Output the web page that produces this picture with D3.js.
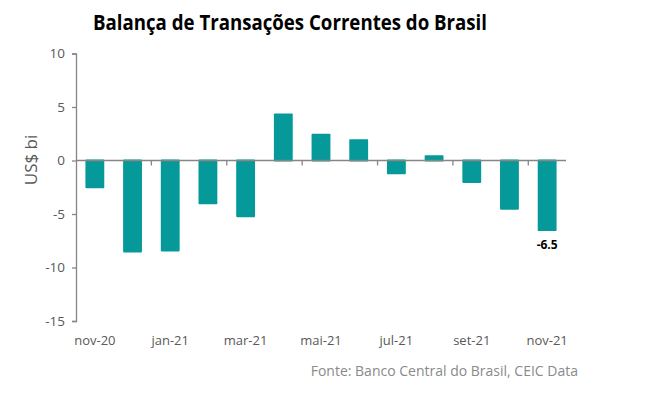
<!DOCTYPE html>
<html><head><meta charset="utf-8">
<script src="https://cdn.jsdelivr.net/npm/d3@7"></script>
<style>body{margin:0;background:#fff}svg{display:block}</style>
</head><body><svg id="c" width="654" height="397"></svg>
<script>
const categories = ["nov-20","dez-20","jan-21","fev-21","mar-21","abr-21","mai-21","jun-21","jul-21","ago-21","set-21","out-21","nov-21"];
const values = [-2.5,-8.5,-8.4,-4.0,-5.2,4.3,2.4,1.9,-1.2,0.4,-2.0,-4.5,-6.5];
const yTicks = [10,5,0,-5,-10,-15];
const xLabels = ["nov-20","jan-21","mar-21","mai-21","jul-21","set-21","nov-21"];
const title = "Balança de Transações Correntes do Brasil";
const yTitle = "US$ bi";
const source = "Fonte: Banco Central do Brasil, CEIC Data";
const labeled = {"nov-21": "-6.5"};

const svg = d3.select("#c");
const axisColor = "#868686", textColor = "#595959", barColor = "#06999a";
const x = d3.scaleBand().domain(categories).range([76, 566]).paddingInner(0.5).paddingOuter(0.25);
const y = d3.scaleLinear().domain([-15, 10]).range([321, 53.5]);

svg.append("text").attr("x", 93).attr("y", 30).attr("font-family","Open Sans, sans-serif")
  .attr("font-weight","bold").attr("font-size",21).attr("fill","#000")
  .attr("textLength",394).attr("lengthAdjust","spacingAndGlyphs").text(title);

// bars
svg.append("g").selectAll("rect").data(values).join("rect")
  .attr("x",(d,i)=>x(categories[i]))
  .attr("width",x.bandwidth())
  .attr("y",d=>y(Math.max(0,d))-1)
  .attr("height",d=>Math.abs(y(d)-y(0))+2)
  .attr("fill",barColor).attr("rx",0.8);

// y axis
const ya = svg.append("g").attr("transform","translate(76,0)")
  .call(d3.axisLeft(y).tickValues(yTicks).tickSize(4).tickPadding(7).tickFormat(d=>String(d)));
ya.select(".domain").attr("stroke",axisColor).attr("stroke-width",1.3);
ya.selectAll(".tick line").attr("stroke",axisColor).attr("stroke-width",1.3);
ya.selectAll("text").attr("fill",textColor).attr("font-family","Open Sans, sans-serif").attr("font-size",13.5);

// zero line and x ticks
const y0 = y(0);
svg.append("line").attr("x1",76).attr("x2",566).attr("y1",y0).attr("y2",y0).attr("stroke",axisColor).attr("stroke-width",1.3);
svg.append("g").selectAll("line").data(d3.range(2, categories.length, 2)).join("line")
  .attr("x1",d=>76+d*(490/categories.length)).attr("x2",d=>76+d*(490/categories.length))
  .attr("y1",y0).attr("y2",y0+5).attr("stroke",axisColor).attr("stroke-width",1.3);

// x labels
svg.append("g").selectAll("text").data(xLabels).join("text")
  .attr("x",d=>x(d)+x.bandwidth()/2).attr("y",345)
  .attr("text-anchor","middle").attr("fill",textColor)
  .attr("font-family","Open Sans, sans-serif").attr("font-size",13).text(d=>d);

// data label
Object.entries(labeled).forEach(([k,v])=>{
  const i = categories.indexOf(k);
  svg.append("text").attr("x",x(k)+x.bandwidth()/2).attr("y",y(values[i])+19)
    .attr("text-anchor","middle").attr("font-family","Open Sans, sans-serif")
    .attr("font-weight","bold").attr("font-size",12).attr("fill","#000").text(v);
});

// y title
svg.append("text").attr("transform","translate(37,160) rotate(-90)")
  .attr("text-anchor","middle").attr("fill",textColor)
  .attr("font-family","Open Sans, sans-serif").attr("font-size",17).text(yTitle);

// source
svg.append("text").attr("x",578).attr("y",376).attr("text-anchor","end")
  .attr("fill","#8a8a8a").attr("font-family","Open Sans, sans-serif").attr("font-size",14).text(source);
</script></body></html>
